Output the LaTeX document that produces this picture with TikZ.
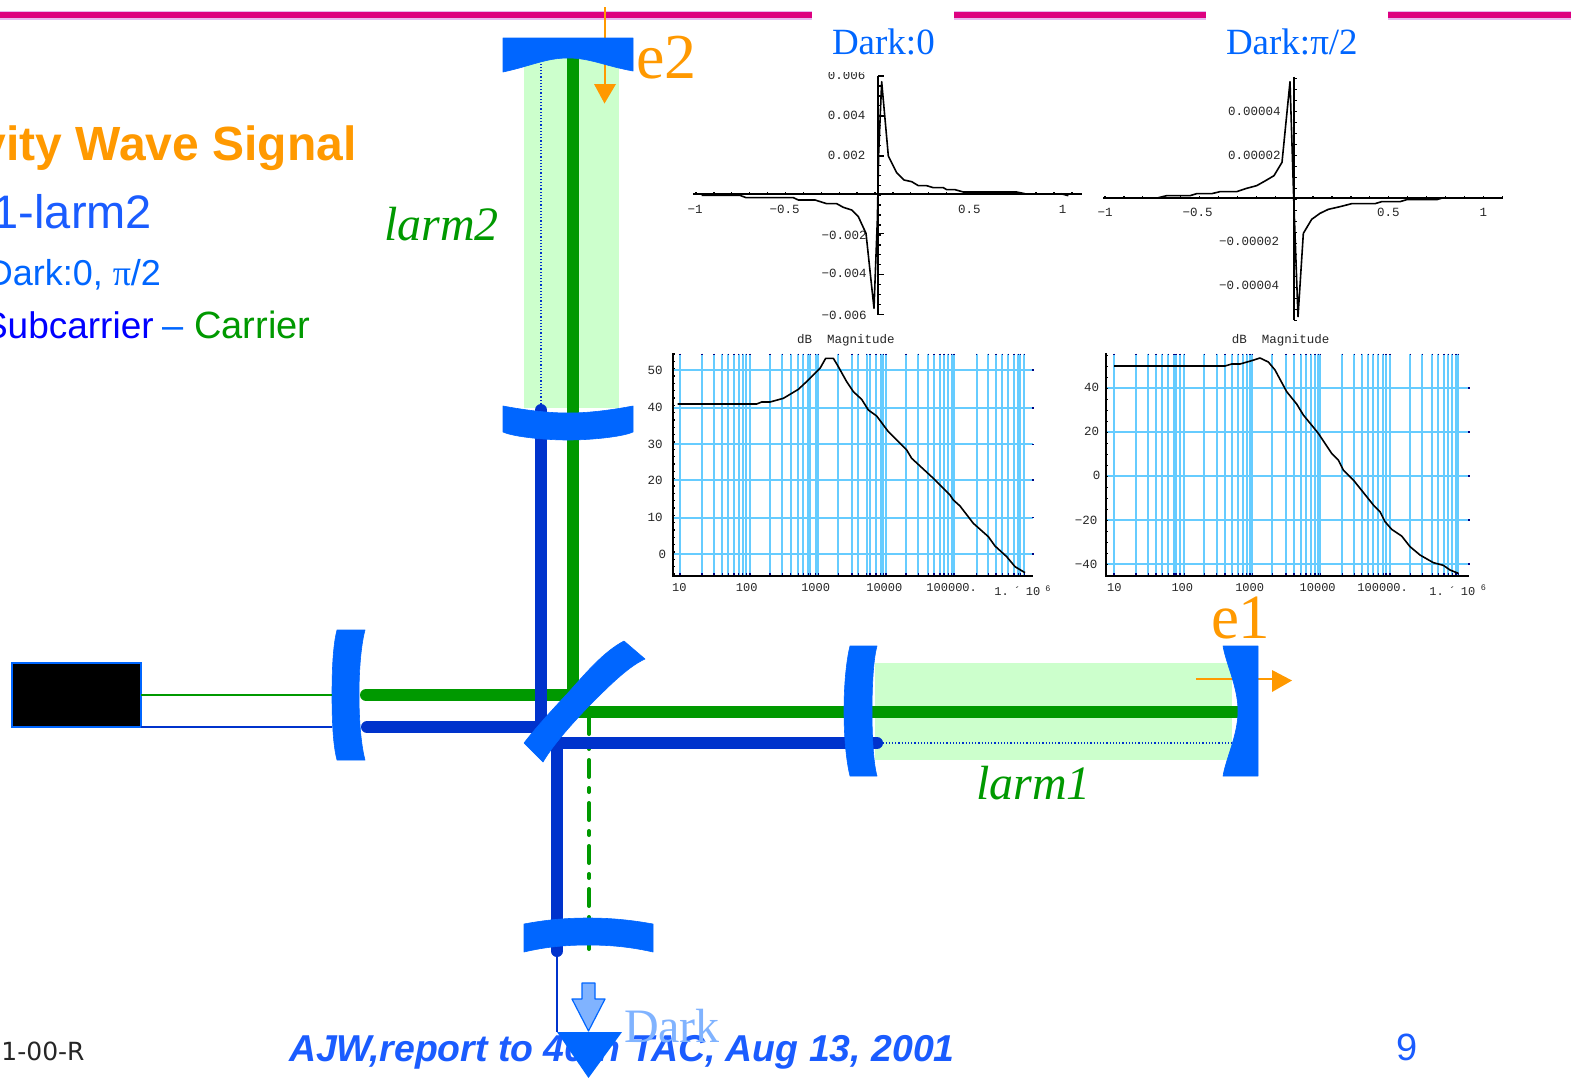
\documentclass[tikz,border=0pt]{standalone}
\usepackage{fontspec}
\setmainfont{Liberation Serif}
\newfontfamily\arialf{Liberation Sans}
\newfontfamily\monof{Liberation Mono}
\newfontfamily\verdf{DejaVu Sans}
\definecolor{mirrorblue}{HTML}{0066FF}
\definecolor{beamblue}{HTML}{0033CC}
\definecolor{beamgreen}{HTML}{009900}
\definecolor{palegreen}{HTML}{CCFFCC}
\definecolor{signalorange}{HTML}{FF9900}
\definecolor{lightdark}{HTML}{80B3FF}
\definecolor{textblue}{HTML}{1A5CFF}
\definecolor{gridblue}{HTML}{66CCFF}
\definecolor{barmag}{HTML}{DD0080}
\definecolor{baredge}{HTML}{E6B8F0}
\definecolor{ticknavy}{HTML}{000080}
\tikzset{
  txt/.style={inner sep=0pt,outer sep=0pt,anchor=base west},
  txtr/.style={inner sep=0pt,outer sep=0pt,anchor=base east},
  mirror/.style={fill=mirrorblue,draw=mirrorblue,line width=0.6pt,line join=round},
  beamg/.style={draw=beamgreen,line width=12pt},
  beamb/.style={draw=beamblue,line width=12pt},
  dotb/.style={draw=beamblue,line width=1.2pt,dash pattern=on 1.2pt off 2pt},
  cavity/.style={fill=palegreen,draw=none},
  orangeline/.style={draw=signalorange,line width=2pt},
  orangehead/.style={fill=signalorange,draw=none},
  pscale/.style={x=0.33333pt,y=-0.33333pt},
  curveline/.style={draw=black,line width=1.6pt,line join=round},
  axisline/.style={draw=black,line width=2pt},
  tickline/.style={draw=black,line width=1.3pt},
  gridline/.style={draw=gridblue,line width=2pt},
  navytick/.style={draw=ticknavy,line width=1.3pt},
  ticklab/.style={inner sep=0pt,outer sep=0pt,text=black!85,font=\monof\fontsize{12.5}{14}\selectfont},
  xlab/.style={inner sep=0pt,outer sep=0pt,text=black!85,font=\monof\fontsize{12}{14}\selectfont},
}
\begin{document}
\begin{tikzpicture}[x=1pt,y=-1pt]
\useasboundingbox (0,0) rectangle (1571,1077);
\clip (0,0) rectangle (1571,1077);
\fill[white] (0,0) rectangle (1571,1077);

% header bars
\foreach \a/\b in {0/812,954/1206,1388/1571}{
  \fill[baredge] (\a,10.5) rectangle (\b,20);
  \fill[barmag] (\a,12) rectangle (\b,18.2);
}

% left text
\node[txtr,text=signalorange,font=\arialf\bfseries\fontsize{48}{50}\selectfont] (t1) at (356.5,160) {vity Wave Signal};
\node[txtr,text=textblue,font=\arialf\fontsize{47}{50}\selectfont] (t2) at (152,228) {1-larm2};
\node[txtr,text=mirrorblue,font=\arialf\fontsize{36}{40}\selectfont] (t3) at (161,285) {Dark:0, {\rmfamily π}/2};
\node[txtr,font=\arialf\fontsize{38}{40}\selectfont] (t4) at (310.5,338) {\textcolor{blue}{\fontsize{37}{40}\selectfont Subcarrier}\hspace{9pt}\textcolor{mirrorblue}{–} \textcolor{beamgreen}{Carrier}};

% footer
\node[txt,text=black!85,font=\verdf\fontsize{25}{27}\selectfont] (f1) at (1.5,1060) {1-00-R};
\node[txt,text=textblue,font=\arialf\bfseries\itshape\fontsize{37.4}{40}\selectfont] (f2) at (289,1061) {AJW,report to 40th TAC, Aug 13, 2001};
\node[txt,text=textblue,font=\arialf\fontsize{38}{40}\selectfont] (f3) at (1396,1060) {9};

% cavities
\fill[cavity] (524,58) rectangle (619,408);
\fill[cavity] (875,663) rectangle (1232,760);

% orange arrows behind mirrors
\coordinate (e2top) at (604.5,7);
\coordinate (e2base) at (604.5,85);
\coordinate (e2tip) at (604.5,103.5);
\draw[orangeline] (e2top) -- (e2base);
\fill[orangehead] (594,84) -- (616,84) -- (e2tip) -- cycle;
\coordinate (e1tail) at (1196,679);
\coordinate (e1base) at (1273,679);
\coordinate (e1tip) at (1292,680.5);
\draw[orangeline] (e1tail) -- (e1base);
\fill[orangehead] (1272,670) -- (e1tip) -- (1272,692) -- cycle;

% beam end points
\coordinate (gTop) at (573,58);
\coordinate (gCorner) at (573,710);
\coordinate (gL) at (366,695);
\coordinate (gR) at (1238,711.5);
\coordinate (gBS) at (578,711.5);
\coordinate (gBSL) at (573,695);
\coordinate (bTop) at (541,410);
\coordinate (bCorner) at (541,727);
\coordinate (bL) at (367,727);
\coordinate (bR) at (876,743);
\coordinate (bCross) at (557,743);
\coordinate (bDown) at (557,951);
\coordinate (dgTop) at (589,717);
\coordinate (dgBot) at (589,949);

% beams
\draw[beamg] (gTop) -- (gBSL |- gCorner);
\draw[beamg,line cap=round] (gL) -- (gBSL);
\draw[beamb,line cap=round] (bTop) -- (bCorner);
\draw[beamb,line cap=round] (bL) -- (bCorner);
\draw[beamg] (gBS) -- (gR);
\draw[draw=beamgreen,line width=4pt,line cap=round,dash pattern=on 17pt off 11pt on 4pt off 11pt,dash phase=0pt] (dgTop) -- (dgBot);
\draw[beamb] (bCross) -- (bR);
\draw[beamb,line cap=round] (bCross) -- (bDown);
\draw[beamb,line cap=round] (bR) -- ++(1,0);
\draw[dotb] (541,404) -- (541,64);
\draw[dotb] (bR) -- (1232,743);

% mirrors
\path[mirror] (503,38) -- (633,38) -- (633,71) .. controls (605,66) and (590,58) .. (568,58) .. controls (546,58) and (531,66) .. (503,72) -- cycle;
\path[mirror] (503,406) .. controls (530,411) and (550,413) .. (568,413) .. controls (586,413) and (606,411) .. (633,406) -- (633,432) .. controls (622,437) and (590,440) .. (568,440) .. controls (546,440) and (514,437) .. (503,432) -- cycle;
\path[mirror] (524,924) .. controls (545,920) and (565,918) .. (588,918) .. controls (611,918) and (631,920) .. (653,924) -- (653,952) .. controls (631,947) and (611,945) .. (588,945) .. controls (565,945) and (545,947) .. (524,952) -- cycle;
\path[mirror] (337,630) -- (365,630) .. controls (361,645) and (359,670) .. (359,695) .. controls (359,720) and (361,745) .. (365,760) -- (337,760) .. controls (333,745) and (332,720) .. (332,695) .. controls (332,670) and (333,645) .. (337,630) -- cycle;
\path[mirror] (850,646) -- (877,646) .. controls (873,660) and (872,690) .. (872,711) .. controls (872,732) and (873,762) .. (877,776) -- (850,776) .. controls (846,760) and (844,735) .. (844,711) .. controls (844,687) and (846,662) .. (850,646) -- cycle;
\path[mirror] (1223,646) -- (1258,646) -- (1258,776) -- (1223,776) .. controls (1226,758) and (1238,735) .. (1238,711) .. controls (1238,687) and (1226,664) .. (1223,646) -- cycle;
\path[mirror] (524,743) .. controls (534,730) and (550,712) .. (567,694) .. controls (585,674) and (603,652) .. (624,641) -- (645,659) .. controls (627,667) and (605,690) .. (587,708) .. controls (570,726) and (553,745) .. (543,762) -- cycle;

% laser
\node[fill=black,draw=mirrorblue,line width=1.3pt,minimum width=129pt,minimum height=64pt,inner sep=0pt,outer sep=0pt,anchor=north west] (laser) at (12,663) {};
\coordinate (laserG) at (laser.east);
\coordinate (laserB) at (laser.south east);
\coordinate (mirG) at (332,695);
\coordinate (mirB) at (332,727);
\draw[draw=beamgreen,line width=1.5pt] (laserG) -- (mirG);
\draw[draw=beamblue,line width=1.5pt] (laserB) -- (mirB);

% dark port
\coordinate (thinTop) at (557,955);
\coordinate (thinBot) at (557,1032);
\draw[draw=beamblue,line width=1.6pt] (thinTop) -- (thinBot);
\fill[mirrorblue] (thinBot) -- (622,1032) -- (588.5,1078) -- cycle;
\draw[fill=lightdark,draw=mirrorblue,line width=1.2pt,line join=round] (582,983) -- (595,983) -- (595,999) -- (605,999) -- (588.5,1031) -- (572,999) -- (582,999) -- cycle;
\node[txt,text=lightdark,font=\fontsize{48}{50}\selectfont] (darkLab) at (624,1042) {Dark};

% labels
\node[txt,text=signalorange,font=\fontsize{64}{66}\selectfont] (e2lab) at (636,78) {e2};
\node[txt,text=signalorange,font=\fontsize{63}{66}\selectfont] (e1lab) at (1211,638) {e1};
\node[txt,text=beamgreen,font=\itshape\fontsize{48}{50}\selectfont] (larm2) at (384,240) {larm2};
\node[txt,text=beamgreen,font=\itshape\fontsize{48}{50}\selectfont] (larm1) at (976,799) {larm1};
\node[txt,text=mirrorblue,font=\fontsize{37}{40}\selectfont] (d0) at (832,54) {Dark:0};
\node[txt,text=mirrorblue,font=\fontsize{37}{40}\selectfont] (d1) at (1226,54) {Dark:π/2};

% plot 1
\begin{scope}[shift={(640,20)},pscale]
\begin{scope}
\clip (100,157) rectangle (1350,950);
\node[ticklab,anchor=east] (p1y6) at (676,167) {0.006};
\end{scope}
\node[ticklab,anchor=east] (p1y4) at (676,286) {0.004};
\node[ticklab,anchor=east] (p1y2) at (676,405) {0.002};
\node[ticklab,anchor=east] (p1ym2) at (680,647) {−0.002};
\node[ticklab,anchor=east] (p1ym4) at (680,760) {−0.004};
\node[ticklab,anchor=east] (p1ym6) at (680,885) {−0.006};
\node[ticklab] (p1xa) at (165,568) {−1};
\node[ticklab] (p1xb) at (434,568) {−0.5};
\node[ticklab] (p1xc) at (988,568) {0.5};
\node[ticklab] (p1xd) at (1268,568) {1};
\draw[axisline] (160,521) -- (1325,521);
\draw[axisline] (715,168) -- (715,884);
\foreach \i in {0,...,21} \draw[tickline] ({168+\i*53.7},521) -- ++(0,-6);
\foreach \i in {0,...,24} \draw[tickline] (715,{168+\i*29.8}) -- ++(9,0);
\foreach \y in {168,288,408,640,763,884} \draw[tickline] (715,\y) -- ++(16,0);
\draw[curveline] plot coordinates {(185,526)(300,526)(318,533)(460,533)(475,540)(525,540)(560,551)(590,551)(610,562)(635,570)(655,590)(678,640)(702,865)(712,600)(716,400)(725,185)(745,408)(770,458)(792,480)(815,485)(835,497)(860,497)(880,503)(910,503)(920,509)(945,509)(970,516)(1130,516)(1155,521)};
\draw[curveline] (1262,521) -- (1285,527);
\end{scope}

% plot 2
\begin{scope}[shift={(1090,20)},pscale]
\node[ticklab,anchor=east] (p2y4) at (572,275) {0.00004};
\node[ticklab,anchor=east] (p2y2) at (572,405) {0.00002};
\node[ticklab,anchor=east] (p2ym2) at (567,665) {−0.00002};
\node[ticklab,anchor=east] (p2ym4) at (567,797) {−0.00004};
\node[ticklab] (p2xa) at (45,578) {−1};
\node[ticklab] (p2xb) at (323,578) {−0.5};
\node[ticklab] (p2xc) at (895,578) {0.5};
\node[ticklab] (p2xd) at (1180,578) {1};
\draw[axisline] (40,533) -- (1240,533);
\draw[axisline] (611,170) -- (611,900);
\foreach \i in {0,...,21} \draw[tickline] ({45+\i*56.75},533) -- ++(0,-5);
\foreach \i in {0,...,22} \draw[tickline] (611,{175+\i*33}) -- ++(9,0);
\draw[curveline] plot coordinates {(205,533)(230,527)(300,527)(320,521)(365,521)(390,515)(440,515)(470,505)(500,497)(525,483)(552,467)(576,427)(600,185)(611,533)(624,890)(640,640)(665,598)(690,580)(715,568)(750,560)(785,551)(855,551)(875,545)(930,545)(950,539)(1040,539)(1060,533)};
\end{scope}

% bode 1
\begin{scope}[shift={(640,330)},pscale]
\foreach \x in {120,186,222,247,265,282,296,308,319,330,390,427,452,475,490,505,511,527,535,595,636,655,680,690,708,722,730,738,798,835,865,882,900,912,925,935,942,1010,1045,1068,1087,1105,1122,1135,1141,1153}{
  \draw[gridline] (\x,72) -- (\x,738);
  \draw[navytick] (\x,71) -- (\x,76);
  \draw[navytick] (\x,729) -- (\x,737);
}
\foreach \y in {120,234,343,450,563,672}{
  \draw[gridline] (98,\y) -- (1180,\y);
  \draw[navytick] (1177,\y) -- (1182,\y);
}
\draw[axisline] (98,70) -- (98,738) -- (1180,738);
\foreach \i in {0,...,30} \draw[tickline] (98,{72+\i*22}) -- ++(6,0);
\node[ticklab] (b1t) at (618,30) {dB\ \ Magnitude};
\foreach \lab/\y in {50/120,40/232,30/343,20/450,10/563}{\node[ticklab] (b1y\lab) at (45,\y) {\lab};}
\node[ticklab] (b1y0) at (67,672) {0};
\foreach \lab/\x in {10/118,100/320,1000/527,10000/733,100000./935}{\node[xlab] (b1x\x) at (\x,772) {\lab};}
\node[xlab,anchor=west] (b1xe) at (1063,785) {1.\hspace{5pt}´\hspace{5pt}10};
\node[xlab,font=\monof\fontsize{8.5}{10}\selectfont] (b1xp) at (1224,776) {6};
\draw[curveline] plot coordinates {(113,222)(350,222)(365,216)(390,216)(430,205)(475,178)(505,150)(540,115)(557,85)(580,85)(595,110)(620,155)(640,185)(665,208)(685,240)(710,258)(745,305)(800,360)(815,385)(880,445)(930,495)(940,510)(960,528)(1000,580)(1045,620)(1065,648)(1100,680)(1125,710)(1155,728)};
\end{scope}

% bode 2
\begin{scope}[shift={(1070,330)},pscale]
\foreach \x in {132,198,235,258,277,295,312,318,330,343,403,440,465,487,505,518,530,540,547,607,648,672,692,708,722,735,745,751,817,853,875,895,910,925,940,948,960,1021,1057,1087,1105,1122,1135,1147,1158,1165}{
  \draw[gridline] (\x,72) -- (\x,738);
  \draw[navytick] (\x,71) -- (\x,76);
  \draw[navytick] (\x,729) -- (\x,737);
}
\foreach \y in {174,306,438,570,702}{
  \draw[gridline] (107,\y) -- (1197,\y);
  \draw[navytick] (1194,\y) -- (1199,\y);
}
\draw[axisline] (107,70) -- (107,738) -- (1197,738);
\foreach \i in {0,...,20} \draw[tickline] (107,{76+\i*33}) -- ++(6,0);
\node[ticklab] (b2t) at (632,30) {dB\ \ Magnitude};
\foreach \lab/\y/\x in {40/172/65,20/305/65,0/437/80,−20/570/48,−40/702/48}{\node[ticklab] (b2y\y) at (\x,\y) {\lab};}
\foreach \lab/\x in {10/133,100/337,1000/539,10000/743,100000./938}{\node[xlab] (b2x\x) at (\x,772) {\lab};}
\node[xlab,anchor=west] (b2xe) at (1078,785) {1.\hspace{5pt}´\hspace{5pt}10};
\node[xlab,font=\monof\fontsize{8.5}{10}\selectfont] (b2xp) at (1240,772) {6};
\draw[curveline] plot coordinates {(132,108)(465,108)(485,102)(510,102)(545,92)(570,84)(595,96)(615,120)(650,185)(680,222)(700,255)(745,310)(785,370)(805,390)(820,420)(850,450)(910,525)(930,545)(945,575)(965,598)(995,618)(1020,650)(1050,675)(1090,698)(1120,706)(1140,720)(1165,730)};
\end{scope}
\end{tikzpicture}
\end{document}
